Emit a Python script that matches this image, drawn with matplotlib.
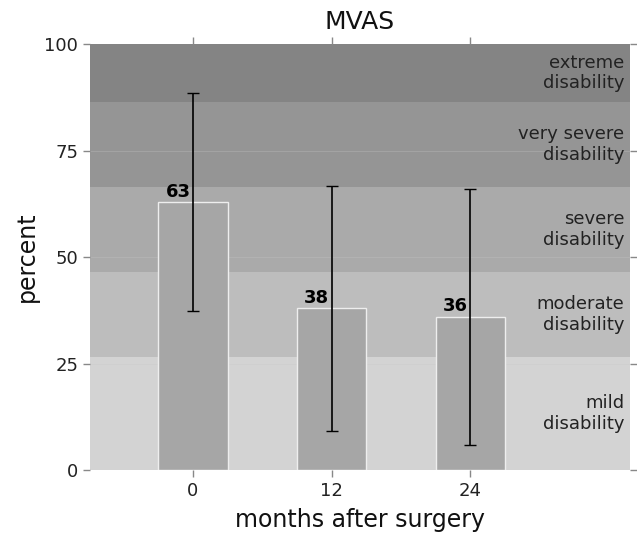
import matplotlib
matplotlib.use('Agg')
import matplotlib.pyplot as plt

# data
months = [0, 12, 24]
mvas = [63, 38, 36]
mvas_err = [25.6, 28.8, 30.1]

band_edges = [0, 26.5, 46.5, 66.5, 86.5, 100]
band_labels = ['mild\ndisability', 'moderate\ndisability', 'severe\ndisability',
               'very severe\ndisability', 'extreme\ndisability']
band_colors = ['#d3d3d3', '#bdbdbd', '#aaaaaa', '#959595', '#848484']

fig = plt.figure(figsize=(6.37, 5.35), dpi=100)
ax = fig.add_axes([90 / 637, 65 / 535, 540 / 637, 425.7 / 535])

for i in range(len(band_labels)):
    lo, hi = band_edges[i], band_edges[i + 1]
    ax.axhspan(lo, hi, color=band_colors[i], lw=0, zorder=0)
    ax.text(37.3, (lo + hi) / 2, band_labels[i], ha='right', va='center',
            fontsize=13, color='#222222', zorder=3)

# faint grid lines
for y in [25, 50, 75]:
    ax.axhline(y, color='#c8c8c8', lw=0.6, alpha=0.35, zorder=0.5)

ax.bar(months, mvas, width=6, color='#a6a6a6', edgecolor='#eeeeee', lw=1, zorder=1)
ax.errorbar(months, mvas, yerr=mvas_err, fmt='none', ecolor='black', elinewidth=1.2,
            capsize=4, capthick=1, zorder=2)

for x, v in zip(months, mvas):
    ax.text(x - 1.3, v + 0.3, str(v), ha='center', va='bottom', fontsize=13,
            fontweight='bold', color='black', zorder=3)

ax.set_xlim(-8.9, 37.8)
ax.set_ylim(0, 100)
ax.set_xticks(months)
ax.set_yticks([0, 25, 50, 75, 100])
for s in ax.spines.values():
    s.set_visible(False)
ax.tick_params(direction='out', length=5, color='#888888', labelsize=13,
               labelcolor='#222222', top=True, right=True, width=1)

ax.set_title('MVAS', fontsize=18, color='#111111', pad=11)
ax.set_xlabel('months after surgery', fontsize=17, color='#111111', labelpad=6)
ax.set_ylabel('percent', fontsize=17, color='#111111')

fig.savefig('out.png', dpi=100)
